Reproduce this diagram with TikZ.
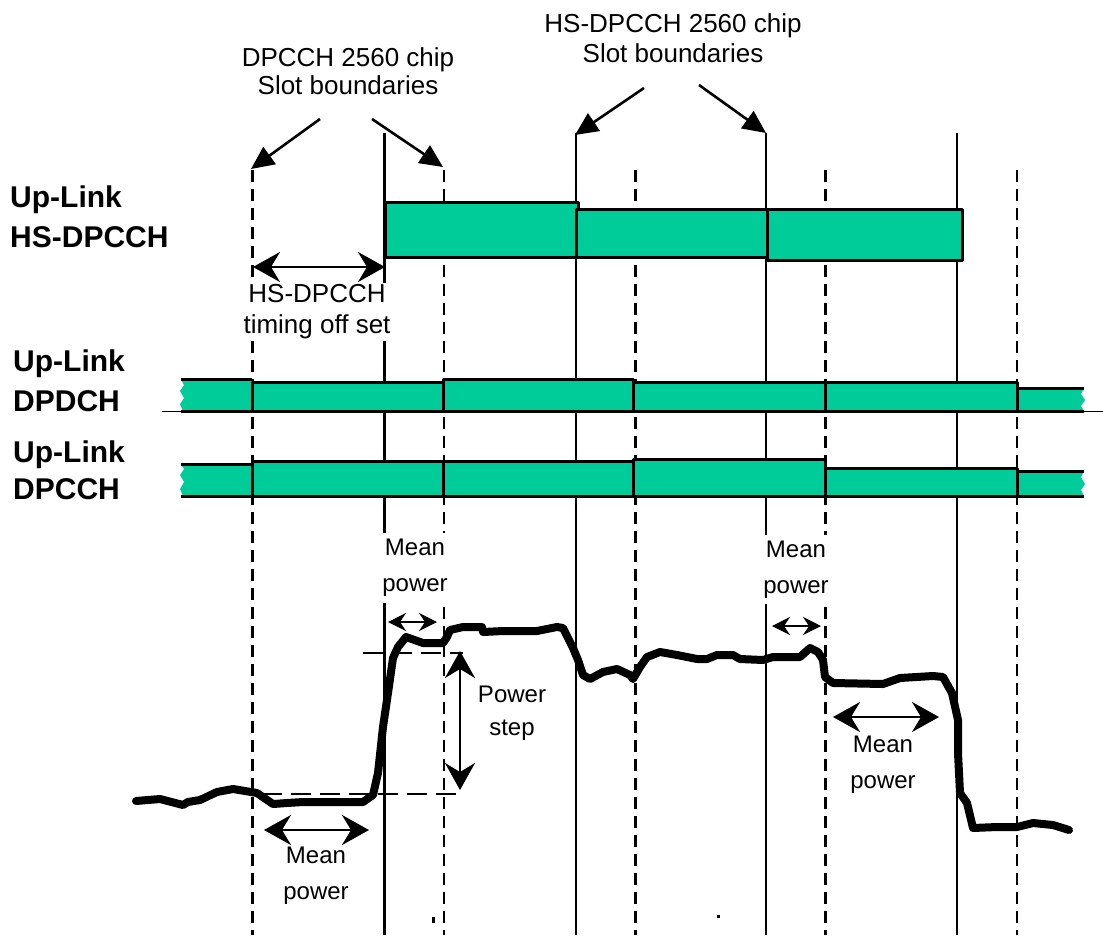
\documentclass[tikz,border=0pt]{standalone}
\usepackage{fontspec}
\setmainfont{Liberation Sans}
\usetikzlibrary{arrows.meta,positioning}
\definecolor{chgreen}{RGB}{0,204,153}

\begin{document}
\begin{tikzpicture}[x=1pt,y=-1pt,line join=round]
\tikzstyle{slot line}=[line width=2.2pt]
\tikzstyle{chip line}=[line width=2.2pt,dash pattern=on 12pt off 7pt]
\tikzstyle{step line}=[line width=2pt,dash pattern=on 20pt off 9pt]

\tikzset{
	chan box/.style={fill=chgreen,draw=black,line width=3pt},
	chan edge/.style={draw=black,line width=3pt},
	chan label/.style={font=\bfseries\fontsize{30}{#1}\selectfont,align=left,inner sep=0,anchor=west},
	note label/.style={font=\fontsize{24}{#1}\selectfont,align=center,inner sep=1pt},
	head label/.style={font=\fontsize{26}{#1}\selectfont,align=center,inner sep=1pt},
	mask label/.style={note label=#1,fill=white,inner xsep=2pt,inner ysep=6pt},
	tip arrow/.style={line width=2.6pt,-{Triangle[length=23pt,width=21pt]}},
	span arrow/.style={line width=2.6pt,{Stealth[length=27pt,width=30pt,inset=9pt]}-{Stealth[length=27pt,width=30pt,inset=9pt]}},
	small arrow/.style={line width=1.6pt,{Stealth[length=18pt,width=18pt,inset=6pt]}-{Stealth[length=18pt,width=18pt,inset=6pt]}},
	power curve/.style={line width=8pt,line cap=round}
}

\useasboundingbox (0,0) rectangle (1103,935);

% slot boundaries
\coordinate (s1) at (384.5,133);
\coordinate (s2) at (576,133);
\coordinate (s3) at (766,133);
\coordinate (s4) at (957,133);
\coordinate (d1) at (252.5,170);
\coordinate (d2) at (444,170);
\coordinate (d3) at (635.5,170);
\coordinate (d4) at (825.5,170);
\coordinate (d5) at (1017,170);

\draw[line width=1pt] (162,411) -- (1103,411);

\draw[slot line] (s1) -- (384.5,935);
\draw[slot line] (s2) -- (576,935);
\draw[slot line] (s3) -- (766,935);
\draw[slot line] (s4) -- (957,935);
\draw[chip line] (d1) -- (252.5,935);
\draw[chip line] (d2) -- (444,935);
\draw[chip line] (d3) -- (635.5,935);
\draw[chip line] (d4) -- (825.5,935);
\draw[chip line] (d5) -- (1017,935);

% HS-DPCCH
\draw[chan box] (385,202) rectangle (578,257);
\draw[chan box] (576,209.5) rectangle (767,257.5);
\draw[chan box] (767,209.5) rectangle (962,260.5);

% DPDCH
\fill[chgreen] (183,411) -- (180,404) -- (184,398) -- (180,391) -- (184,385) -- (181,379.5) -- (252,379.5) -- (252,411) -- cycle;
\draw[chan edge] (181,379.5) -- (252,379.5) (181,411) -- (252,411);
\draw[chan box] (252,382) rectangle (443,411);
\draw[chan box] (443,379.5) rectangle (633,411);
\draw[chan box] (633,382) rectangle (825,411);
\draw[chan box] (825,382) rectangle (1017,411);
\fill[chgreen] (1017,388) -- (1084,388) -- (1081,394) -- (1085,400) -- (1081,406) -- (1084,411) -- (1017,411) -- cycle;
\draw[chan edge] (1017,411) -- (1017,388) -- (1084,388) (1017,411) -- (1084,411);

% DPCCH
\fill[chgreen] (183,496) -- (180,489) -- (184,482) -- (180,475) -- (184,469) -- (181,464) -- (252,464) -- (252,496) -- cycle;
\draw[chan edge] (181,464) -- (252,464) (181,496) -- (252,496);
\draw[chan box] (252,461.5) rectangle (443,496);
\draw[chan box] (443,461.5) rectangle (633,496);
\draw[chan box] (633,459) rectangle (825,496);
\draw[chan box] (825,468) rectangle (1017,496);
\fill[chgreen] (1017,471) -- (1084,471) -- (1081,477) -- (1085,484) -- (1081,490) -- (1084,496) -- (1017,496) -- cycle;
\draw[chan edge] (1017,496) -- (1017,471) -- (1084,471) (1017,496) -- (1084,496);

% power step levels
\coordinate (stepTop) at (460,651);
\coordinate (stepLow) at (460,790);
\draw[step line] (363,653) -- (463,653);
\draw[step line] (262,794) -- (463,794);

% mean power curve
\draw[power curve] (136,801) -- (160,799) -- (183,805) -- (188,802) -- (200,800) -- (217,792)
	-- (233,789) -- (245,791) -- (257,793) -- (273,804) -- (287,803) -- (303,802) -- (363,802)
	-- (373,795) -- (378,773) -- (383,727) -- (388,693) -- (393,658) -- (398,647) -- (406,637)
	-- (423,643) -- (443,643) -- (447,637) -- (450,630) -- (463,627) -- (482,627) -- (483,632)
	-- (503,631) -- (537,631) -- (557,627) -- (563,628) -- (573,648) -- (578,660) -- (583,675)
	-- (590,679) -- (603,672) -- (617,669) -- (630,675) -- (633,679) -- (640,667) -- (647,657)
	-- (660,652) -- (677,655) -- (697,659) -- (707,659) -- (717,655) -- (733,655) -- (740,659)
	-- (763,660) -- (773,657) -- (800,657) -- (810,648) -- (818,652) -- (823,660) -- (825,677)
	-- (833,683) -- (883,684) -- (900,678) -- (933,676) -- (943,677) -- (952,693) -- (958,720)
	-- (958,753) -- (960,793) -- (967,803) -- (973,828) -- (997,827) -- (1017,827) -- (1033,823)
	-- (1053,825) -- (1069,830);

\fill (432,917) rectangle (435,923);
\fill (717,915) rectangle (720,918);

% channel names
\node[chan label=39.3] (hsName) at (10,216.7) {Up-Link\\HS-DPCCH};
\node[chan label=40] (dpdchName) at (13,380.7) {Up-Link\\DPDCH};
\node[chan label=37] (dpcchName) at (13,470.6) {Up-Link\\DPCCH};

% notes
\node[head label=28.3] (slotDpcch) at (348,71.4) {DPCCH 2560 chip\\Slot boundaries};
\node[head label=30.4] (slotHs) at (673,38) {HS-DPCCH 2560 chip\\Slot boundaries};
\node[head label=31,fill=white,inner xsep=1pt,inner ysep=2pt] (offsetNote) at (317,311.8) {HS-DPCCH\\timing off set};
\node[mask label=36] (meanA) at (415,568) {Mean\\power};
\node[mask label=36] (meanB) at (796,569.3) {Mean\\power};
\node[note label=33.3] (stepNote) at (512,713) {Power\\step};
\node[note label=36] (meanC) at (316,876) {Mean\\power};
\node[note label=36] (meanD) at (883,765) {Mean\\power};

\coordinate (slotDa) at (320,119);
\coordinate (slotDb) at (372,119);
\coordinate (slotHa) at (644,88);
\coordinate (slotHb) at (699,85);
\draw[tip arrow] (slotDa) -- (251,169);
\draw[tip arrow] (slotDb) -- (443,167);
\draw[tip arrow] (slotHa) -- (575,135);
\draw[tip arrow] (slotHb) -- (766,133);

\coordinate (offL) at (253,267);
\coordinate (offR) at (385,267);
\draw[span arrow] (offL) -- (offR);
\draw[span arrow] (stepTop) -- (stepLow);
\coordinate (meanCl) at (264,830);
\coordinate (meanCr) at (369,830);
\draw[span arrow] (meanCl) -- (meanCr);
\coordinate (meanDl) at (833,717);
\coordinate (meanDr) at (939,717);
\draw[span arrow] (meanDl) -- (meanDr);
\coordinate (meanAl) at (388,622);
\coordinate (meanAr) at (437,622);
\draw[small arrow] (meanAl) -- (meanAr);
\coordinate (meanBl) at (772,626);
\coordinate (meanBr) at (821,626);
\draw[small arrow] (meanBl) -- (meanBr);
\end{tikzpicture}
\end{document}
